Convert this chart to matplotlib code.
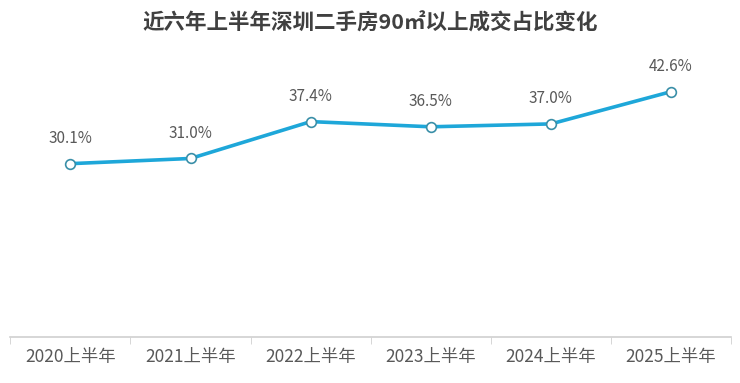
import matplotlib
matplotlib.use('Agg')
import matplotlib.pyplot as plt

plt.rcParams['font.family'] = ['Noto Sans CJK SC', 'DejaVu Sans']

periods = ['2020上半年', '2021上半年', '2022上半年', '2023上半年', '2024上半年', '2025上半年']
shares = [30.1, 31.0, 37.4, 36.5, 37.0, 42.6]
title = '近六年上半年深圳二手房90㎡以上成交占比变化'

line_color = '#1ea7d9'
text_color = '#595959'

fig = plt.figure(figsize=(7.4, 3.83), dpi=100)
ax = fig.add_axes([0.014, 0.12, 0.974, 0.752])

x = list(range(len(periods)))
ax.plot(x, shares, color=line_color, lw=2.6, marker='o', ms=7,
        mfc='white', mec='#3a8fa8', mew=1.2, zorder=3)

for xi, v in zip(x, shares):
    ax.annotate(f'{v:.1f}%', (xi, v), xytext=(0, 12), textcoords='offset points',
                ha='center', va='bottom', fontsize=11, color=text_color)

ax.set_xlim(-0.5, len(periods) - 0.5)
ax.set_ylim(0, 50)
ax.set_yticks([])
ax.set_xticks(x)
ax.set_xticklabels(periods, fontsize=12.5, color=text_color)
ax.set_xticks([i - 0.5 for i in range(len(periods) + 1)], minor=True)
ax.tick_params(axis='x', which='major', length=0, pad=8)
ax.tick_params(axis='x', which='minor', length=5, color='#d0d0d0', direction='out')

for side in ['top', 'left', 'right']:
    ax.spines[side].set_visible(False)
ax.spines['bottom'].set_color('#d0d0d0')
ax.spines['bottom'].set_linewidth(1.2)

fig.text(0.5, 0.94, title, ha='center', va='center', fontsize=15.5,
         fontweight='bold', color='#404040')

fig.savefig('out.png', dpi=100, facecolor='white')
